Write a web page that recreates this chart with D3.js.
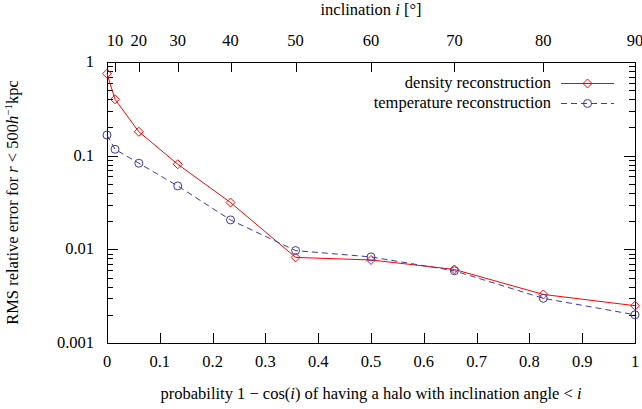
<!DOCTYPE html>
<html>
<head>
<meta charset="utf-8">
<script src="https://cdn.jsdelivr.net/npm/d3@7"></script>
<style>
  body { margin: 0; background: #fff; }
  svg text { font-family: "Liberation Serif", "Times New Roman", serif; font-size: 16.5px; fill: #000; }
</style>
</head>
<body>
<script>
// data: inclination angles (degrees) and RMS relative errors
var inclinations = [0, 10, 20, 30, 40, 50, 60, 70, 80, 90];
var densityErr = [0.75, 0.40, 0.18, 0.081, 0.0316, 0.0082, 0.0077, 0.0061, 0.0033, 0.0025];
var temperatureErr = [0.166, 0.117, 0.083, 0.0475, 0.0206, 0.0097, 0.0083, 0.0059, 0.0030, 0.0020];
var topTicks = [10, 20, 30, 40, 50, 60, 70, 80, 90];
var bottomTicks = [0, 0.1, 0.2, 0.3, 0.4, 0.5, 0.6, 0.7, 0.8, 0.9, 1];
var yMajor = [0.001, 0.01, 0.1, 1];
var yLabels = ["0.001", "0.01", "0.1", "1"];

var w = 642, h = 409;
var margin = { top: 62, right: 7, bottom: 66, left: 107 };
var width = w - margin.left - margin.right;
var height = h - margin.top - margin.bottom;

function prob(i) { return 1 - Math.cos(i * Math.PI / 180); }

var x = d3.scaleLinear().domain([0, 1]).range([0, width]);
var y = d3.scaleLog().domain([0.001, 1]).range([height, 0]);

var svg = d3.select("body").append("svg")
  .attr("width", w)
  .attr("height", h);

var g = svg.append("g")
  .attr("transform", "translate(" + margin.left + "," + margin.top + ")");

// minor log ticks
var yMinor = [];
[0.001, 0.01, 0.1].forEach(function(d) {
  for (var k = 2; k <= 9; k++) yMinor.push(d * k);
});

var ticks = g.append("g").attr("stroke", "#000").attr("stroke-width", 1);

// left and right y ticks (inward)
yMajor.forEach(function(v) {
  var yy = Math.round(y(v)) + 0.5;
  ticks.append("line").attr("x1", 0).attr("x2", 11).attr("y1", yy).attr("y2", yy);
  ticks.append("line").attr("x1", width).attr("x2", width - 11).attr("y1", yy).attr("y2", yy);
});
yMinor.forEach(function(v) {
  var yy = Math.round(y(v)) + 0.5;
  ticks.append("line").attr("x1", 0).attr("x2", 6).attr("y1", yy).attr("y2", yy);
  ticks.append("line").attr("x1", width).attr("x2", width - 6).attr("y1", yy).attr("y2", yy);
});

// bottom ticks
bottomTicks.forEach(function(v) {
  var xx = Math.round(x(v)) + 0.5;
  ticks.append("line").attr("x1", xx).attr("x2", xx).attr("y1", height).attr("y2", height - 10);
});

// top ticks (inclination)
topTicks.forEach(function(v) {
  var xx = Math.round(x(prob(v))) + 0.5;
  ticks.append("line").attr("x1", xx).attr("x2", xx).attr("y1", 0).attr("y2", 10);
});

// frame
g.append("rect")
  .attr("x", 0.5).attr("y", 0.5)
  .attr("width", width).attr("height", height)
  .attr("fill", "none").attr("stroke", "#000").attr("stroke-width", 1);

// tick labels
g.selectAll(".ylab").data(yMajor).enter().append("text")
  .attr("x", -13)
  .attr("y", function(d) { return y(d) + 5; })
  .attr("text-anchor", "end")
  .text(function(d, i) { return yLabels[i]; });

g.selectAll(".xlab").data(bottomTicks).enter().append("text")
  .attr("x", function(d) { return x(d); })
  .attr("y", height + 24)
  .attr("text-anchor", "middle")
  .text(function(d) { return d3.format("~g")(d); });

g.selectAll(".tlab").data(topTicks).enter().append("text")
  .attr("x", function(d) { return x(prob(d)); })
  .attr("y", -16)
  .attr("text-anchor", "middle")
  .text(function(d) { return d; });

// axis titles
var topTitle = g.append("text")
  .attr("x", width / 2).attr("y", -47)
  .attr("text-anchor", "middle");
topTitle.append("tspan").text("inclination ");
topTitle.append("tspan").attr("font-style", "italic").text("i");
topTitle.append("tspan").text(" [°]");

var botTitle = g.append("text")
  .attr("x", width / 2).attr("y", height + 56)
  .attr("text-anchor", "middle");
botTitle.append("tspan").text("probability 1 − cos(");
botTitle.append("tspan").attr("font-style", "italic").text("i");
botTitle.append("tspan").text(") of having a halo with inclination angle < ");
botTitle.append("tspan").attr("font-style", "italic").text("i");

var yTitle = svg.append("text")
  .attr("transform", "translate(18," + (margin.top + height / 2) + ") rotate(-90)")
  .attr("text-anchor", "middle");
yTitle.append("tspan").text("RMS relative error for ");
yTitle.append("tspan").attr("font-style", "italic").text("r");
yTitle.append("tspan").text(" < 500");
yTitle.append("tspan").attr("font-style", "italic").text("h");
yTitle.append("tspan").attr("dy", -6).attr("font-size", "11px").text("−1");
yTitle.append("tspan").attr("dy", 6).text("kpc");

// series
var series = [
  { name: "density reconstruction", values: densityErr, color: "#ff0000", dash: null, marker: "diamond" },
  { name: "temperature reconstruction", values: temperatureErr, color: "#3a3aa8", dash: "6,4", marker: "circle" }
];

var line = d3.line()
  .x(function(d) { return x(prob(d.i)); })
  .y(function(d) { return y(d.v); });

function drawMarker(sel, type, color) {
  if (type === "diamond") {
    sel.append("path")
      .attr("d", "M0,-4.5L4.5,0L0,4.5L-4.5,0Z")
      .attr("fill", "none").attr("stroke", color).attr("stroke-width", 1);
  } else {
    sel.append("circle")
      .attr("r", 4)
      .attr("fill", "none").attr("stroke", color).attr("stroke-width", 1);
  }
}

series.forEach(function(s) {
  var pts = inclinations.map(function(i, k) { return { i: i, v: s.values[k] }; });
  g.append("path")
    .datum(pts)
    .attr("d", line)
    .attr("fill", "none")
    .attr("stroke", s.color)
    .attr("stroke-width", 1)
    .attr("stroke-dasharray", s.dash);
  pts.forEach(function(p) {
    var m = g.append("g").attr("transform", "translate(" + x(prob(p.i)) + "," + y(p.v) + ")");
    drawMarker(m, s.marker, s.color);
  });
});

// legend
var legend = g.append("g").attr("transform", "translate(" + (width - 84) + ",21)");
series.forEach(function(s, k) {
  var row = legend.append("g").attr("transform", "translate(0," + (k * 20) + ")");
  row.append("text").attr("x", 0).attr("y", 5).attr("text-anchor", "end").text(s.name);
  row.append("line")
    .attr("x1", 10).attr("x2", 63).attr("y1", 0.5).attr("y2", 0.5)
    .attr("stroke", s.color).attr("stroke-width", 1)
    .attr("stroke-dasharray", s.dash);
  var m = row.append("g").attr("transform", "translate(36.5,0.5)");
  drawMarker(m, s.marker, s.color);
});
</script>
</body>
</html>
